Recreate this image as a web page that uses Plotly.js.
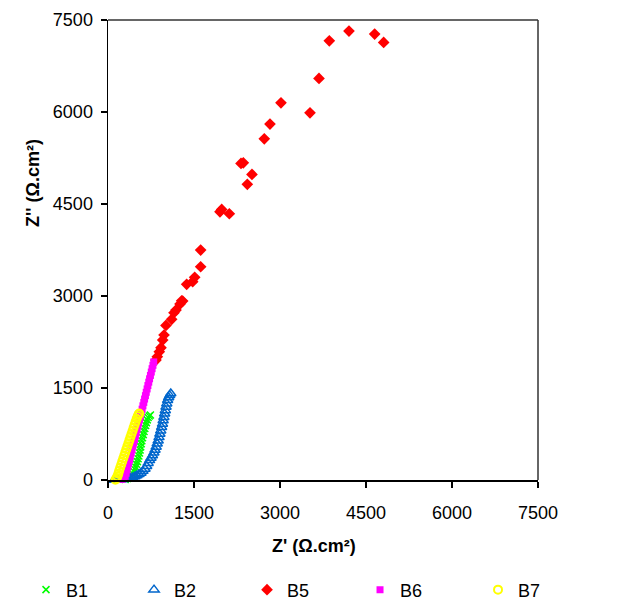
<!DOCTYPE html>
<html>
<head>
<meta charset="utf-8">
<script src="https://cdn.plot.ly/plotly-3.0.1.min.js"></script>
<style>html,body{margin:0;padding:0;background:#fff;}#chart{width:622px;height:602px;}</style>
</head>
<body>
<div id="chart"></div>
<script>
// Series values (Z' and Z'' in Ω.cm²)
const b1X = [300,340,380,410,435,455,470,485,498,512,525,538,550,560,570,580,590,602,615,628,642,656,670,685,700,720,740];
const b1Y = [10,25,45,70,100,135,170,210,255,300,345,390,440,490,540,590,640,690,740,790,840,890,935,980,1020,1045,1060];

const b2X = [110,150,190,230,270,310,350,390,430,470,505,540,575,610,645,675,700,725,750,775,800,820,840,858,875,890,905,920,935,950,962,975,988,1000,1012,1025,1040,1058,1075,1095];
const b2Y = [0,2,5,8,12,18,25,33,43,56,72,92,114,145,180,225,275,320,360,400,445,490,540,590,640,695,750,805,860,915,970,1025,1080,1135,1190,1245,1300,1345,1380,1410];

const b5X = [837,860,895,924,954,977,1011,1110,1151,1186,1256,1285,1302,1372,1477,1512,1616,1616,1953,1983,2116,2430,2511,2320,2360,2726,2825,3017,3523,3680,3860,4203,4651,4808];
const b5Y = [1956,2010,2091,2157,2282,2364,2521,2619,2727,2771,2869,2922,2918,3190,3233,3304,3477,3749,4373,4412,4341,4820,4983,5162,5172,5563,5803,6150,5987,6548,7161,7319,7270,7134];

const b6X = [240,270,300,317,332,347,361,376,390,405,419,434,449,463,478,492,507,522,536,551,565,580,595,609,624,638,653,667,682,696,711,725,740,755,769,784,798];
const b6Y = [10,30,60,110,165,220,275,330,385,440,495,550,605,660,715,770,825,880,935,990,1045,1100,1155,1210,1265,1320,1375,1430,1485,1540,1595,1650,1705,1760,1815,1870,1925];

const b7X = [130,150,165,180,195,212,230,248,266,284,302,320,338,356,374,392,410,428,446,464,482,500,518,535,545];
const b7Y = [5,30,60,100,150,200,250,300,350,400,450,500,550,600,650,700,750,800,850,900,950,1000,1040,1070,1085];

const tickVals = [0,1500,3000,4500,6000,7500];
const tickText = ['0','1500','3000','4500','6000','7500'];

const FONT = 'Arial, "Liberation Sans", sans-serif';

const traces = [
  {name:'B1', legend:'legend', x:b1X, y:b1Y, mode:'markers', type:'scatter', cliponaxis:false,
   marker:{symbol:'x-thin-open', size:7, color:'#00FF00', line:{color:'#00FF00', width:1.5}}},
  {name:'B2', legend:'legend2', x:b2X, y:b2Y, mode:'markers', type:'scatter', cliponaxis:false,
   marker:{symbol:'triangle-up-open', size:9, color:'#0066CC', line:{color:'#0066CC', width:1.5}}},
  {name:'B5', legend:'legend3', x:b5X, y:b5Y, mode:'markers', type:'scatter', cliponaxis:false,
   marker:{symbol:'diamond', size:9, color:'#FF0000'}},
  {name:'B6', legend:'legend4', x:b6X, y:b6Y, mode:'markers', type:'scatter', cliponaxis:false,
   marker:{symbol:'square', size:7, color:'#FF00FF'}},
  {name:'B7', legend:'legend5', x:b7X, y:b7Y, mode:'markers', type:'scatter', cliponaxis:false,
   marker:{symbol:'circle-open', size:8, color:'#FFFF00', line:{color:'#FFFF00', width:2}}}
];

const axisCommon = {
  range:[0,7500], tickmode:'array', tickvals:tickVals, ticktext:tickText,
  ticks:'outside', ticklen:6, tickwidth:1.5, tickcolor:'#000',
  showline:true, linecolor:'#000', linewidth:1.5,
  showgrid:false, zeroline:false, fixedrange:true, automargin:false,
  tickfont:{family:FONT, size:18, color:'#000'}
};

function leg(x) {
  return {orientation:'h', x:x, xanchor:'left', y:-0.239, yanchor:'middle',
    font:{family:FONT, size:18, color:'#000'}, bgcolor:'rgba(0,0,0,0)'};
}

const layout = {
  width:622, height:602,
  margin:{l:108, r:84, t:20, b:122, autoexpand:false},
  paper_bgcolor:'#fff', plot_bgcolor:'#fff',
  showlegend:true,
  xaxis:Object.assign({}, axisCommon, {ticklabelstandoff:10}),
  yaxis:Object.assign({}, axisCommon, {ticklabelstandoff:4}),
  legend:leg(-0.1907),
  legend2:leg(0.0605),
  legend3:leg(0.3233),
  legend4:leg(0.5861),
  legend5:leg(0.8605),
  shapes:[
    {type:'line', xref:'paper', yref:'paper', x0:0, x1:1, y0:1, y1:1, line:{color:'#333', width:1.5}},
    {type:'line', xref:'paper', yref:'paper', x0:1, x1:1, y0:0, y1:1, line:{color:'#333', width:1.5}}
  ],
  annotations:[
    {text:"<b>Z' (Ω.cm²)</b>", xref:'paper', yref:'paper', x:0.479, y:-0.1435, xanchor:'center', yanchor:'middle',
     showarrow:false, font:{family:FONT, size:18, color:'#000'}},
    {text:"<b>Z'' (Ω.cm²)</b>", xref:'paper', yref:'paper', x:-0.1744, y:0.6457, xanchor:'center', yanchor:'middle',
     textangle:-90, showarrow:false, font:{family:FONT, size:18, color:'#000'}}
  ]
};

Plotly.newPlot('chart', traces, layout, {staticPlot:true, displayModeBar:false});
</script>
</body>
</html>
